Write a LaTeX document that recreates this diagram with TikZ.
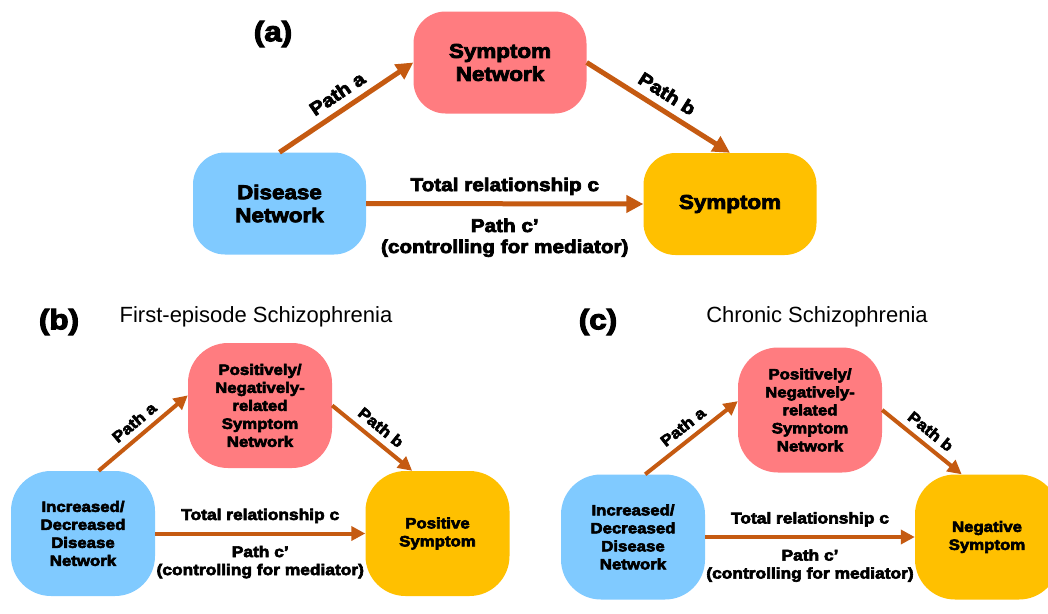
\documentclass[tikz,border=0pt]{standalone}
\usepackage{fontspec}
\setmainfont{Liberation Sans}
\newfontfamily\hv{Liberation Sans}[UprightFont={* Bold}, FakeBold=4, FakeStretch=1.12]
\usetikzlibrary{arrows.meta}
\definecolor{pinkbox}{HTML}{FF7C80}
\definecolor{bluebox}{HTML}{80CAFF}
\definecolor{yellowbox}{HTML}{FFC000}
\definecolor{arrowc}{HTML}{C55A11}
\begin{document}
\begin{tikzpicture}[x=1pt,y=-1pt,
  bxa/.style={fill=#1, draw=none, rounded corners=32pt, align=center, inner sep=0pt,
    minimum width=173pt, minimum height=102pt, font=\hv\fontsize{20}{23}\selectfont},
  bxb/.style={fill=#1, draw=none, rounded corners=40pt, align=center, inner sep=0pt,
    minimum width=144pt, minimum height=125pt, font=\hv\fontsize{15}{18}\selectfont},
  arra/.style={draw=arrowc, line width=5pt, -{Triangle[length=17pt,width=17pt]}},
  arrb/.style={draw=arrowc, line width=4pt, -{Triangle[length=14pt,width=14pt]}},
  lbla/.style={font=\hv\fontsize{18.5}{21}\selectfont, align=center, text=black},
  lblb/.style={font=\hv\fontsize{15.5}{18}\selectfont, align=center, text=black},
  paneltag/.style={font=\hv\fontsize{28}{30}\selectfont},
  titletxt/.style={font=\fontsize{22}{24}\selectfont}
]
\useasboundingbox (0,0) rectangle (1048,613);
\fill[white] (0,0) rectangle (1048,613);

% ---------- (a) ----------
\node[paneltag] (ta) at (273,34) {(a)};
\node[bxa=pinkbox] (aSN) at (500,62.5) {Symptom\\Network};
\node[bxa=bluebox] (aDN) at (279.5,203.5) {Disease\\Network};
\node[bxa=yellowbox] (aSY) at (730,204) {Symptom};
\draw[arra] (aDN.north) -- node[lbla, sloped, above=4pt] {Path a} (aSN.west);
\draw[arra] (aSN.east) -- node[lbla, sloped, above=4pt] {Path b} (aSY.north);
\draw[arra] (aDN.east) -- node[lbla, above=3pt] {Total relationship c}
  node[lbla, below=9pt] {Path c’\\(controlling for mediator)} (aSY.west);

% ---------- (b) ----------
\node[paneltag] (tb) at (59,322) {(b)};
\node[titletxt] (hb) at (256,317) {First-episode Schizophrenia};
\node[bxb=pinkbox] (bPN) at (260,405.5) {Positively/\\Negatively-\\related\\Symptom\\Network};
\node[bxb=bluebox] (bDN) at (83,533.5) {Increased/\\Decreased\\Disease\\Network};
\node[bxb=yellowbox] (bPS) at (437.5,533.5) {Positive\\Symptom};
\draw[arrb] (bDN.76) -- node[lblb, sloped, above=3pt] {Path a} (bPN.172);
\draw[arrb] (bPN.east) -- node[lblb, sloped, above=3pt] {Path b} (bPS.112);
\draw[arrb] (bDN.east) -- node[lblb, above=5pt] {Total relationship c}
  node[lblb, below=7pt] {Path c’\\(controlling for mediator)} (bPS.west);

% ---------- (c) ----------
\node[paneltag] (tc) at (598,322) {(c)};
\node[titletxt] (hc) at (817,317) {Chronic Schizophrenia};
\node[bxb=pinkbox] (cPN) at (810,410) {Positively/\\Negatively-\\related\\Symptom\\Network};
\node[bxb=bluebox] (cDN) at (633,537) {Increased/\\Decreased\\Disease\\Network};
\node[bxb=yellowbox] (cNS) at (987,537) {Negative\\Symptom};
\draw[arrb] (cDN.79) -- node[lblb, sloped, above=3pt] {Path a} (cPN.173);
\draw[arrb] (cPN.east) -- node[lblb, sloped, above=3pt] {Path b} (cNS.112);
\draw[arrb] (cDN.east) -- node[lblb, above=5pt] {Total relationship c}
  node[lblb, below=7pt] {Path c’\\(controlling for mediator)} (cNS.west);
\end{tikzpicture}
\end{document}
